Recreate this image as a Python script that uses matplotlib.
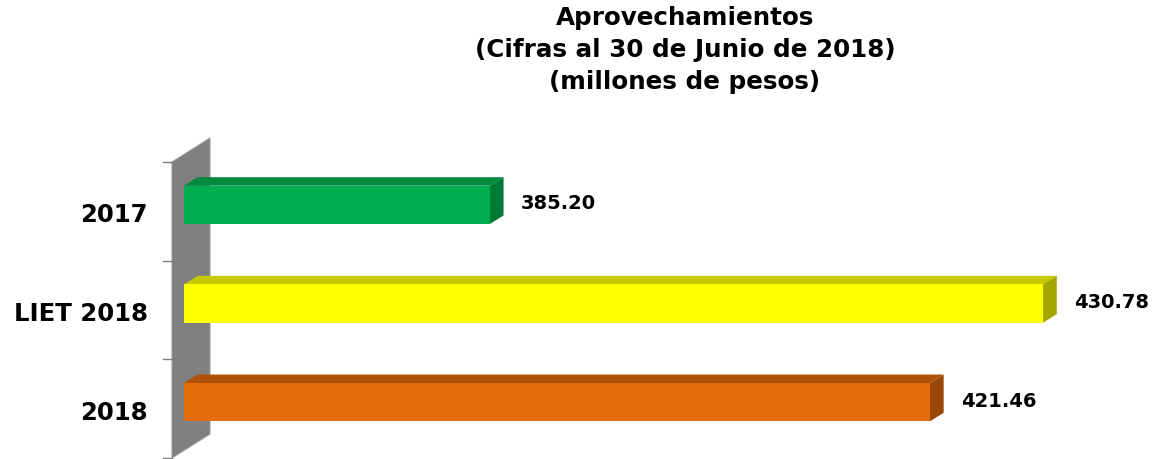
import matplotlib
matplotlib.use("Agg")
import matplotlib.pyplot as plt
from matplotlib.patches import Polygon

# ---- data ----
categories = ["2017", "LIET 2018", "2018"]
values = [385.20, 430.78, 421.46]
value_labels = ["385.20", "430.78", "421.46"]
title_lines = ["Aprovechamientos", "(Cifras al 30 de Junio de 2018)", "(millones de pesos)"]

front_colors = ["#00B050", "#FFFF00", "#E46C0A"]
top_colors = ["#008A3E", "#C8C800", "#AD5207"]
side_colors = ["#007A35", "#A6A600", "#9A4808"]

W, H = 1155, 460
fig = plt.figure(figsize=(W / 100, H / 100), dpi=100)
ax = fig.add_axes([184 / W, 1 - 459 / H, (W - 184) / W, (459 - 163) / H])
xmin, xmax = 360, 440
ax.set_xlim(xmin, xmax)
ax.set_ylim(2.5, -0.5)
ax.axis("off")

# pixel -> data conversions for the 3D depth effect
px_x = (xmax - xmin) / (W - 184)
px_y = 3.0 / (459 - 163)
dx = 13.7 * px_x
dy = -8.5 * px_y

# back wall (grey)
wall_l = xmin - 12 * px_x
wall_r = xmin + 26 * px_x
wall = Polygon([(wall_l, -0.5), (wall_r, -0.5 - 24 * px_y),
                (wall_r, 2.5 - 24 * px_y), (wall_l, 2.5)],
               closed=True, facecolor="#7F7F7F", edgecolor="#9A9A9A",
               linewidth=0.8, clip_on=False, zorder=1)
ax.add_patch(wall)

# tick marks on the wall's left edge
for b in [-0.5, 0.5, 1.5, 2.5]:
    ax.plot([xmin - 21 * px_x, wall_l], [b, b], color="#7F7F7F",
            linewidth=1.0, clip_on=False, zorder=1)

bar_h = 0.388
offset = -6.5 * px_y
for i, (cat, v) in enumerate(zip(categories, values)):
    yc = i + offset
    yt = yc - bar_h / 2
    yb = yc + bar_h / 2
    ax.barh(yc, v - xmin, left=xmin, height=bar_h, color=front_colors[i],
            edgecolor="none", zorder=3)
    top = Polygon([(xmin, yt), (v, yt), (v + dx, yt + dy), (xmin + dx, yt + dy)],
                  closed=True, facecolor=top_colors[i], edgecolor="none", zorder=2)
    side = Polygon([(v, yt), (v, yb), (v + dx, yb + dy), (v + dx, yt + dy)],
                   closed=True, facecolor=side_colors[i], edgecolor="none", zorder=2)
    ax.add_patch(top)
    ax.add_patch(side)
    ax.text(v + 31 * px_x, yc - 2 * px_y, value_labels[i], ha="left", va="center",
            fontsize=14, fontweight="bold", family="DejaVu Sans",
            color="black", zorder=5)
    ax.text(-(184 - 148) / (W - 184), i + 3 * px_y, cat,
            transform=ax.get_yaxis_transform(), ha="right", va="center",
            fontsize=17.6, fontweight="bold", family="DejaVu Sans",
            color="black")

for j, line in enumerate(title_lines):
    fig.text(685 / W, 1 - (18.5 + 32 * j) / H, line, ha="center", va="center",
             fontsize=17.7, fontweight="bold", family="DejaVu Sans",
             color="black")

fig.savefig("out.png", dpi=100)
